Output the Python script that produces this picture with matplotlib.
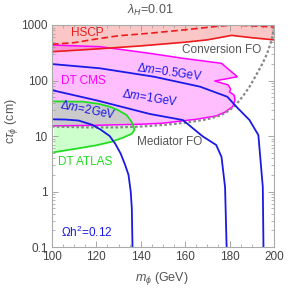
import matplotlib
matplotlib.use("Agg")
import matplotlib.pyplot as plt
from matplotlib.ticker import MultipleLocator, LogLocator, NullFormatter, FixedLocator

plt.rcParams['font.family'] = ['Liberation Sans', 'DejaVu Sans']
plt.rcParams['mathtext.fontset'] = 'custom'
plt.rcParams['mathtext.rm'] = 'Liberation Sans'
plt.rcParams['mathtext.it'] = 'Liberation Sans:italic'

# HSCP bound (solid) and dashed variant
hscp_x = [100, 120, 140, 160, 170, 181, 190, 200]
hscp_y = [330, 370, 420, 490, 540, 650, 590, 540]
hscp_dash_x = [100, 110, 120, 130, 144, 160, 175, 182, 200]
hscp_dash_y = [450, 480, 560, 640, 710, 820, 950, 1000, 920]

# DT CMS region outline
cms_x = [100, 121.6, 144, 159, 176.4, 183.5, 173.4, 179.4, 180.5, 180, 182, 182.5, 181.5,
         178, 174, 165, 160, 150, 140, 120, 100]
cms_y = [436, 407, 309, 251, 204, 117, 98, 83, 70, 62, 55, 45, 34,
         27, 23, 20, 19, 17, 16.3, 15.6, 15.2]

# DT ATLAS region outline
atlas_x = [101, 114, 121, 126, 130, 133.6, 135.9, 136.8, 137.2, 136, 132, 127, 120, 112, 101]
atlas_y = [42, 41.5, 38, 33.8, 29, 24, 18, 14.8, 12.9, 11, 9.3, 7.9, 6.8, 6.0, 5.1]

# freeze-out boundary (Mediator FO -> Conversion FO)
fo_x = [100, 115, 130, 140, 150, 160, 170, 176, 180, 183, 186, 189, 192, 195, 197, 199, 200]
fo_y = [14.8, 14.3, 14.3, 14.8, 15.8, 17.3, 20, 23.5, 29, 37, 52, 77, 125, 207, 310, 540, 900]

# relic density contours Omega h^2 = 0.12
dm05_x = [100, 121.6, 146, 166.7, 179, 183, 189, 193, 193.7, 195, 195.3]
dm05_y = [198, 166, 117, 77.5, 51, 34, 19.4, 10.4, 4.9, 1.2, 0.1]
dm1_x = [100, 120, 144, 159, 168, 174, 176.4, 178, 178.7]
dm1_y = [67, 44, 25, 19.4, 9.8, 6.9, 4.2, 1.2, 0.1]
dm2_x = [100, 106, 112, 118, 122, 126, 128.5, 131, 133, 134.5, 135.5, 136, 136.3]
dm2_y = [20, 19.8, 19, 16, 13, 10, 7.3, 4.8, 3.0, 2.0, 1.0, 0.5, 0.1]

red = '#ee1c1c'
mag = '#ff00ff'
grn = '#22dd22'
blu = '#1a1ae6'
gry = '#555555'

fig = plt.figure(figsize=(3.0, 2.89), dpi=100)
ax = fig.add_axes([0.173, 0.1453, 0.74, 0.7682])

ax.fill_between(hscp_x, hscp_y, 1000, color=red, alpha=0.25, lw=0)
ax.fill(cms_x, cms_y, color=mag, alpha=0.25, lw=0)
ax.fill(atlas_x, atlas_y, color='#00ff00', alpha=0.2, lw=0)

ax.plot(cms_x + [cms_x[0]], cms_y + [cms_y[0]], color=mag, lw=1.1)
ax.plot(atlas_x, atlas_y, color=grn, lw=1.3)
ax.plot(hscp_x, hscp_y, color=red, lw=1.2)
ax.plot(hscp_dash_x, hscp_dash_y, color=red, lw=1.2, ls=(0, (4, 2)))
ax.plot(fo_x, fo_y, color='#888888', lw=1.6, ls=(0, (1.2, 1)))
for xs, ys in [(dm05_x, dm05_y), (dm1_x, dm1_y), (dm2_x, dm2_y)]:
    ax.plot(xs, ys, color=blu, lw=1.3)

ax.set_xlim(100, 200)
ax.set_yscale('log')
ax.set_ylim(0.1, 1000)

ax.xaxis.set_major_locator(MultipleLocator(20))
ax.xaxis.set_minor_locator(MultipleLocator(5))
ax.yaxis.set_major_locator(FixedLocator([0.1, 1, 10, 100, 1000]))
ax.yaxis.set_minor_locator(LogLocator(base=10, subs=range(2, 10)))
ax.yaxis.set_minor_formatter(NullFormatter())
ax.set_yticklabels(['0.1', '1', '10', '100', '1000'])
ax.tick_params(which='both', direction='in', top=True, right=True,
               colors='#999999', labelcolor='#444444', labelsize=8.5, pad=3)
ax.tick_params(which='major', length=4, width=0.6)
ax.tick_params(which='minor', length=2, width=0.5)
for s in ax.spines.values():
    s.set_color('#aaaaaa')
    s.set_linewidth(0.8)

fs = 8.5
ax.text(116, 720, 'HSCP', color=red, fontsize=fs, ha='center', va='center')
ax.text(176.6, 355, 'Conversion FO', color=gry, fontsize=fs, ha='center', va='center')
ax.text(114, 98, 'DT CMS', color=mag, fontsize=fs, ha='center', va='center')
ax.text(153, 142, r'$\Delta m$=0.5GeV', color=blu, fontsize=fs, ha='center', va='center', rotation=-8)
ax.text(144, 48, r'$\Delta m$=1GeV', color=blu, fontsize=fs, ha='center', va='center', rotation=-9)
ax.text(116, 29, r'$\Delta m$=2GeV', color=blu, fontsize=fs, ha='center', va='center', rotation=-11)
ax.text(153, 7.9, 'Mediator FO', color=gry, fontsize=fs, ha='center', va='center')
ax.text(115, 3.4, 'DT ATLAS', color=grn, fontsize=fs, ha='center', va='center')
ax.text(115.7, 0.18, r'$\Omega$h$^2$=0.12', color=blu, fontsize=fs, ha='center', va='center')

fig.text(0.5, 0.965, r'$\lambda_H$=0.01', color=gry, fontsize=9, ha='center', va='center')
fig.text(0.54, 0.038, r'$m_\phi$ (GeV)', color=gry, fontsize=9, ha='center', va='center')
fig.text(0.04, 0.58, r'c$\tau_\phi$ (cm)', color=gry, fontsize=9, ha='center', va='center', rotation=90)

fig.savefig('out.png', dpi=100)
